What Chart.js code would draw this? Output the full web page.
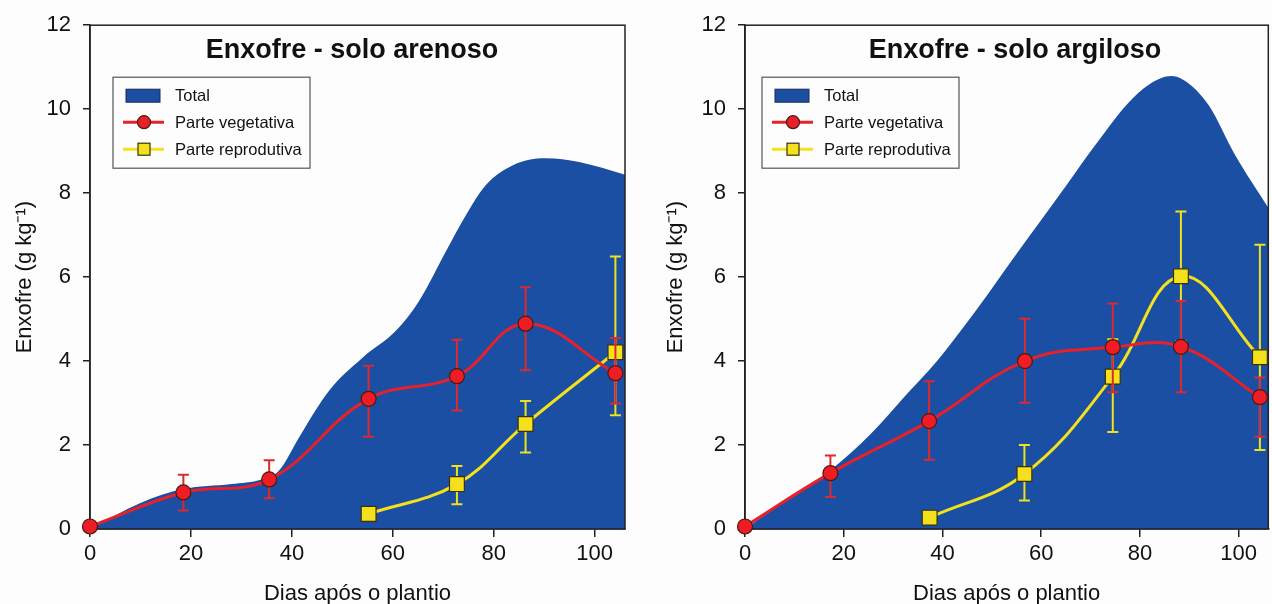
<!DOCTYPE html>
<html lang="pt">
<head>
<meta charset="utf-8">
<title>Enxofre - solo arenoso e argiloso</title>
<script src="https://cdn.jsdelivr.net/npm/chart.js@4.4.0/dist/chart.umd.min.js"></script>
<style>
  html, body { margin: 0; padding: 0; background: #fdfdfd; overflow: hidden; }
  #wrap { position: relative; width: 1272px; height: 604px; overflow: hidden; }
  canvas { position: absolute; top: 0; }
  #arenoso { left: 0; }
  #argiloso { left: 640px; }
</style>
</head>
<body>
<div id="wrap">
  <canvas id="arenoso" width="640" height="604"></canvas>
  <canvas id="argiloso" width="640" height="604"></canvas>
</div>
<script>
// ticks dos eixos
const xTicks = [0, 20, 40, 60, 80, 100];
const yTicks = [0, 2, 4, 6, 8, 10, 12];

// Solo arenoso
const arenosoTotalDias = [0, 10, 18.5, 28, 34, 37.5, 41.5, 47.4, 54, 60.6, 65.2, 70.5, 74.5, 78.4, 83.7, 90.3, 96.9, 106];
const arenosoTotal = [0, 0.62, 0.95, 1.07, 1.18, 1.4, 2.2, 3.3, 4.08, 4.72, 5.43, 6.61, 7.48, 8.19, 8.66, 8.83, 8.74, 8.44];
const arenosoVegDias = [0, 18.5, 35.5, 55.2, 72.7, 86.3, 104.1];
const arenosoVeg = [0.06, 0.87, 1.18, 3.1, 3.64, 4.89, 3.71];
const arenosoVegSup = [null, 1.29, 1.64, 3.89, 4.51, 5.76, 4.55];
const arenosoVegInf = [null, 0.44, 0.73, 2.2, 2.82, 3.78, 2.99];
const arenosoRepDias = [55.2, 72.7, 86.3, 104.1];
const arenosoRep = [0.36, 1.07, 2.5, 4.21];
const arenosoRepSup = [null, 1.5, 3.05, 6.49];
const arenosoRepInf = [null, 0.59, 1.82, 2.71];

// Solo argiloso
const argilosoTotalDias = [0, 8, 17, 25.6, 32.2, 38.9, 45.5, 50.8, 54.8, 60, 65, 70.8, 77.4, 82, 86.4, 90, 94, 99.3, 106];
const argilosoTotal = [0, 0.66, 1.37, 2.28, 3.14, 4.0, 5.0, 5.86, 6.52, 7.36, 8.17, 9.12, 10.12, 10.6, 10.79, 10.6, 10.08, 8.9, 7.65];
const argilosoVegDias = [0, 17.3, 37.3, 56.7, 74.5, 88.3, 104.3];
const argilosoVeg = [0.06, 1.33, 2.57, 4.0, 4.33, 4.34, 3.14];
const argilosoVegSup = [null, 1.75, 3.52, 5.01, 5.37, 5.43, 3.61];
const argilosoVegInf = [null, 0.76, 1.65, 3.01, 3.26, 3.26, 2.2];
const argilosoRepDias = [37.4, 56.6, 74.5, 88.3, 104.3];
const argilosoRep = [0.27, 1.31, 3.63, 6.02, 4.09];
const argilosoRepSup = [null, 2.0, 4.52, 7.56, 6.77];
const argilosoRepInf = [null, 0.68, 2.31, 4.48, 1.88];

const AZUL = '#1b4fa3';
const VERMELHO = '#e8202a';
const AMARELO = '#f4e11c';
const FONTE = "'Liberation Sans', Arial, sans-serif";

function pontos(xs, ys) {
    return xs.map(function (x, i) { return { x: x, y: ys[i] }; });
}

// moldura preta em volta da area do grafico (depois da area azul)
const moldura = {
    id: 'moldura',
    afterDatasetDraw: function (chart, args) {
        if (args.index !== 0) return;
        const a = chart.chartArea;
        const ctx = chart.ctx;
        ctx.save();
        ctx.strokeStyle = '#222';
        ctx.lineWidth = 1.5;
        ctx.strokeRect(a.left, a.top, a.right - a.left, a.bottom - a.top);
        ctx.restore();
    }
};

// barras de erro, desenhadas antes de cada serie para os marcadores ficarem por cima
const barrasErro = {
    id: 'barrasErro',
    beforeDatasetDraw: function (chart, args) {
        const ds = chart.data.datasets[args.index];
        if (!ds.errSup) return;
        const ctx = chart.ctx;
        const xs = chart.scales.x, ys = chart.scales.y;
        ctx.save();
        ctx.strokeStyle = ds.errCor;
        ctx.lineWidth = 2;
        ds.data.forEach(function (p, i) {
            if (ds.errSup[i] == null) return;
            const x = xs.getPixelForValue(p.x);
            const y1 = ys.getPixelForValue(ds.errSup[i]);
            const y2 = ys.getPixelForValue(ds.errInf[i]);
            ctx.beginPath();
            ctx.moveTo(x, y1); ctx.lineTo(x, y2);
            ctx.moveTo(x - 5.5, y1); ctx.lineTo(x + 5.5, y1);
            ctx.moveTo(x - 5.5, y2); ctx.lineTo(x + 5.5, y2);
            ctx.stroke();
        });
        ctx.restore();
    }
};

// titulo dentro da area do grafico
const tituloInterno = {
    id: 'tituloInterno',
    afterDraw: function (chart, args, opts) {
        const ctx = chart.ctx;
        ctx.save();
        ctx.font = 'bold 27px ' + FONTE;
        ctx.fillStyle = '#111';
        ctx.textAlign = 'center';
        ctx.textBaseline = 'middle';
        ctx.fillText(opts.texto, opts.x, chart.chartArea.top + 25);
        ctx.restore();
    }
};

// legenda em caixa, dentro da area do grafico
const caixaLegenda = {
    id: 'caixaLegenda',
    afterDraw: function (chart, args, opts) {
        const ctx = chart.ctx;
        const x0 = chart.chartArea.left + opts.dx;
        const y0 = chart.chartArea.top + 52;
        ctx.save();
        ctx.fillStyle = '#fdfdfd';
        ctx.fillRect(x0, y0, 197, 91);
        ctx.strokeStyle = '#555';
        ctx.lineWidth = 1.2;
        ctx.strokeRect(x0, y0, 197, 91);

        // Total
        ctx.fillStyle = AZUL;
        ctx.strokeStyle = '#1a2a55';
        ctx.lineWidth = 1;
        ctx.fillRect(x0 + 13, y0 + 12, 34, 13);
        ctx.strokeRect(x0 + 13, y0 + 12, 34, 13);

        // Parte vegetativa
        let y = y0 + 45;
        ctx.strokeStyle = VERMELHO;
        ctx.lineWidth = 3;
        ctx.beginPath(); ctx.moveTo(x0 + 10, y); ctx.lineTo(x0 + 51, y); ctx.stroke();
        ctx.beginPath(); ctx.arc(x0 + 31, y, 6.5, 0, Math.PI * 2);
        ctx.fillStyle = VERMELHO; ctx.fill();
        ctx.strokeStyle = '#4a1a10'; ctx.lineWidth = 1.2; ctx.stroke();

        // Parte reprodutiva
        y = y0 + 72;
        ctx.strokeStyle = AMARELO;
        ctx.lineWidth = 3;
        ctx.beginPath(); ctx.moveTo(x0 + 10, y); ctx.lineTo(x0 + 51, y); ctx.stroke();
        ctx.fillStyle = AMARELO;
        ctx.fillRect(x0 + 25, y - 6, 12, 12);
        ctx.strokeStyle = '#3a3010'; ctx.lineWidth = 1.2;
        ctx.strokeRect(x0 + 25, y - 6, 12, 12);

        ctx.fillStyle = '#111';
        ctx.font = '16.5px ' + FONTE;
        ctx.textBaseline = 'middle';
        ctx.textAlign = 'left';
        ctx.fillText('Total', x0 + 62, y0 + 19);
        ctx.fillText('Parte vegetativa', x0 + 62, y0 + 46);
        ctx.fillText('Parte reprodutiva', x0 + 62, y0 + 73);
        ctx.restore();
    }
};

function criarGrafico(id, s, extra) {
    const ctx = document.getElementById(id).getContext('2d');
    return new Chart(ctx, {
        type: 'line',
        data: {
            datasets: [{
                label: 'Total',
                data: pontos(s.totalDias, s.total),
                fill: 'origin',
                backgroundColor: AZUL,
                borderColor: AZUL,
                borderWidth: 0,
                pointRadius: 0,
                cubicInterpolationMode: 'monotone',
                order: 3
            }, {
                label: 'Parte reprodutiva',
                data: pontos(s.repDias, s.rep),
                borderColor: AMARELO,
                borderWidth: 3,
                backgroundColor: AMARELO,
                pointStyle: 'rect',
                pointRadius: 10.5,
                pointBorderColor: '#3a3010',
                pointBorderWidth: 1.2,
                tension: 0.4,
                clip: 12,
                errSup: s.repSup,
                errInf: s.repInf,
                errCor: '#ece21e',
                order: 2
            }, {
                label: 'Parte vegetativa',
                data: pontos(s.vegDias, s.veg),
                borderColor: VERMELHO,
                borderWidth: 3,
                backgroundColor: '#ee1c24',
                pointStyle: 'circle',
                pointRadius: 7.5,
                pointBorderColor: '#4a1a10',
                pointBorderWidth: 1.2,
                tension: 0.4,
                clip: 12,
                errSup: s.vegSup,
                errInf: s.vegInf,
                errCor: '#da2a30',
                order: 1
            }]
        },
        options: {
            responsive: false,
            animation: false,
            events: [],
            layout: { padding: { left: extra.padEsq, right: extra.padDir, top: 22, bottom: 0 } },
            scales: {
                x: {
                    type: 'linear',
                    min: 0,
                    max: 106,
                    afterBuildTicks: function (sc) { sc.ticks = xTicks.map(function (v) { return { value: v }; }); },
                    afterFit: function (sc) { sc.height = 75; },
                    grid: { drawOnChartArea: false, drawTicks: true, tickLength: 8, color: '#222', lineWidth: 1.5 },
                    border: { display: true, color: '#222', width: 1.5 },
                    ticks: { padding: 4, color: '#111', font: { family: FONTE, size: 22 }, maxRotation: 0 },
                    title: {
                        display: true,
                        text: 'Dias após o plantio',
                        color: '#111',
                        font: { family: FONTE, size: 22, lineHeight: 1 },
                        padding: { top: 0, bottom: -1 }
                    }
                },
                y: {
                    min: 0,
                    max: 12,
                    afterBuildTicks: function (sc) { sc.ticks = yTicks.map(function (v) { return { value: v }; }); },
                    afterFit: function (sc) { sc.width = extra.larguraY; },
                    grid: { drawOnChartArea: false, drawTicks: true, tickLength: 7, color: '#222', lineWidth: 1.5 },
                    border: { display: true, color: '#222', width: 1.5 },
                    ticks: { padding: 12, color: '#111', font: { family: FONTE, size: 22 } },
                    title: {
                        display: true,
                        text: 'Enxofre (g kg⁻¹)',
                        color: '#111',
                        font: { family: FONTE, size: 22, lineHeight: 1 },
                        padding: { top: 14, bottom: 0 }
                    }
                }
            },
            plugins: {
                legend: { display: false },
                tooltip: { enabled: false },
                tituloInterno: { texto: extra.titulo, x: extra.tituloX },
                caixaLegenda: { dx: extra.legendaDx }
            }
        },
        plugins: [moldura, barrasErro, tituloInterno, caixaLegenda]
    });
}

criarGrafico('arenoso', {
    totalDias: arenosoTotalDias, total: arenosoTotal,
    vegDias: arenosoVegDias, veg: arenosoVeg, vegSup: arenosoVegSup, vegInf: arenosoVegInf,
    repDias: arenosoRepDias, rep: arenosoRep, repSup: arenosoRepSup, repInf: arenosoRepInf
}, { titulo: 'Enxofre - solo arenoso', tituloX: 352, padEsq: 0, padDir: 15, larguraY: 90, legendaDx: 23 });

criarGrafico('argiloso', {
    totalDias: argilosoTotalDias, total: argilosoTotal,
    vegDias: argilosoVegDias, veg: argilosoVeg, vegSup: argilosoVegSup, vegInf: argilosoVegInf,
    repDias: argilosoRepDias, rep: argilosoRep, repSup: argilosoRepSup, repInf: argilosoRepInf
}, { titulo: 'Enxofre - solo argiloso', tituloX: 375, padEsq: 11, padDir: 0, larguraY: 94, legendaDx: 17 });
</script>
</body>
</html>
